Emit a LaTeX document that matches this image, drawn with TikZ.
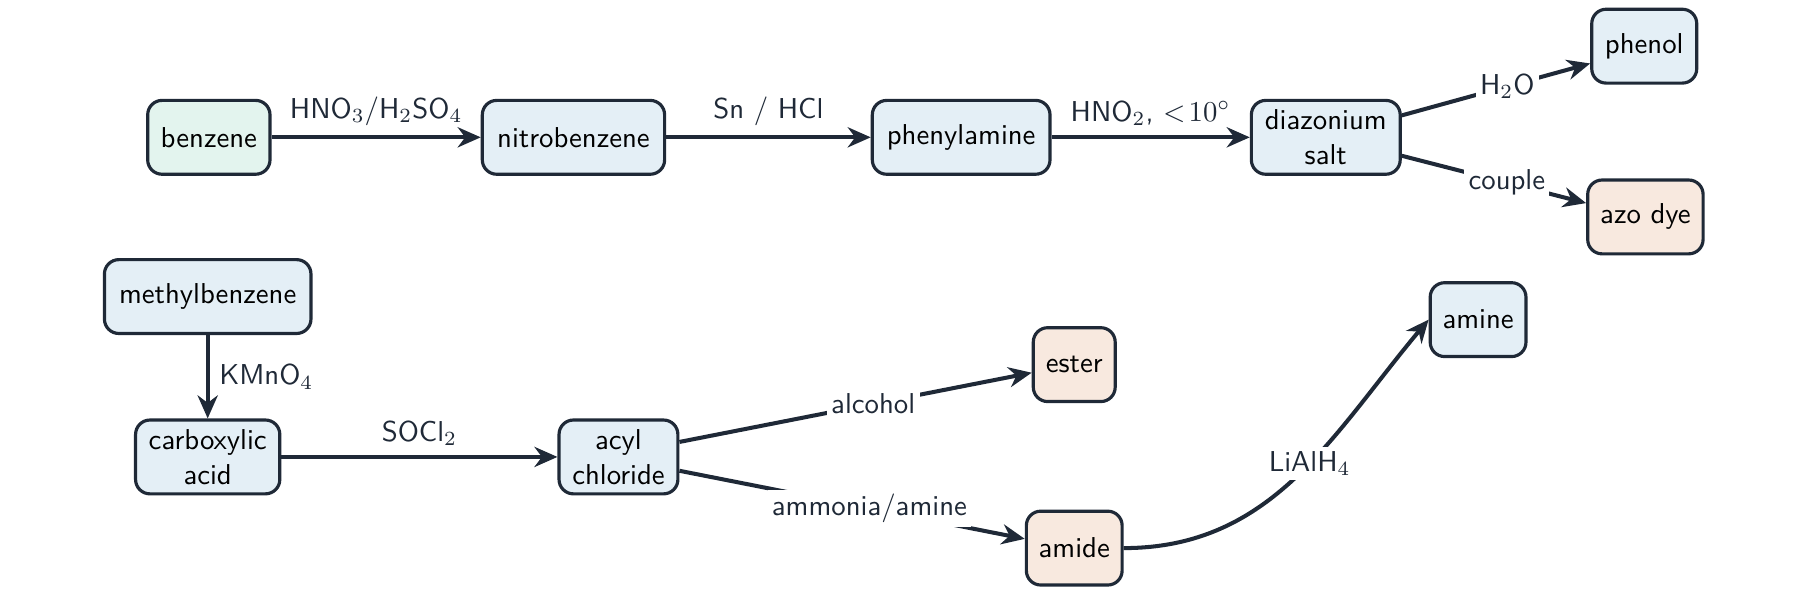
\documentclass[tikz,border=0pt]{standalone}
\usetikzlibrary{arrows.meta}
\renewcommand{\familydefault}{\sfdefault}
\begin{document}
\begin{tikzpicture}[x=0.141mm,y=-0.141mm,
  box/.style={draw=edge,line width=1.1pt,rounded corners=5pt,minimum height=64*0.141mm,align=center,inner sep=2pt,font=\sffamily},
  blue/.style={box,fill=bl},
  grn/.style={box,fill=gr},
  org/.style={box,fill=og},
  arr/.style={draw=edge,line width=1.4pt,-{Stealth[length=8pt,width=7pt]}},
  lab/.style={fill=white,inner sep=1.5pt,font=\sffamily,text=edge}]
\definecolor{edge}{HTML}{1F2937}
\definecolor{bl}{HTML}{E4EFF6}
\definecolor{gr}{HTML}{E3F4EE}
\definecolor{og}{HTML}{F8E9DF}
\useasboundingbox (0,0) rectangle (1560,513);
\node[grn,minimum width=106*0.141mm] (benz) at (181,119) {benzene};
\node[blue,minimum width=158*0.141mm] (nitro) at (497,119) {nitrobenzene};
\node[blue,minimum width=154*0.141mm] (phen) at (833,119) {phenylamine};
\node[blue,minimum width=129*0.141mm] (diaz) at (1149,119) {diazonium\\salt};
\node[blue,minimum width=91*0.141mm] (phenol) at (1425,40) {phenol};
\node[org,minimum width=100*0.141mm] (azo) at (1426,188) {azo dye};
\node[blue,minimum width=179*0.141mm] (meth) at (180,257) {methylbenzene};
\node[blue,minimum width=125*0.141mm] (carb) at (180,396) {carboxylic\\acid};
\node[blue,minimum width=103*0.141mm] (acyl) at (536,396) {acyl\\chloride};
\node[org,minimum width=71*0.141mm] (ester) at (931,316) {ester};
\node[org,minimum width=83*0.141mm] (amide) at (931,475) {amide};
\node[blue,minimum width=83*0.141mm] (amine) at (1281,277) {amine};
\draw[arr] (benz) -- node[above,font=\sffamily,text=edge] {HNO$_3$/H$_2$SO$_4$} (nitro);
\draw[arr] (nitro) -- node[above,font=\sffamily,text=edge] {Sn / HCl} (phen);
\draw[arr] (phen) -- node[above,font=\sffamily,text=edge] {HNO$_2$, $<\!10^\circ$} (diaz);
\draw[arr] (diaz.east|-1214,100) -- node[lab,pos=0.56] {H$_2$O} (phenol.west|-1378,55);
\draw[arr] (diaz.east|-1214,135) -- node[lab,pos=0.57] {couple} (azo.west|-1372,176);
\draw[arr] (meth) -- node[right,font=\sffamily,text=edge] {KMnO$_4$} (carb);
\draw[arr] (carb) -- node[above,font=\sffamily,text=edge] {SOCl$_2$} (acyl);
\draw[arr] (acyl.east|-588,383) -- node[lab,pos=0.55] {alcohol} (ester.west|-893,323);
\draw[arr] (acyl.east|-588,408) -- node[lab,pos=0.55] {ammonia/amine} (amide.west|-887,467);
\draw[arr] (amide.east) to[out=0,in=-130] node[lab,pos=0.55] {LiAlH$_4$} (amine.west);
\end{tikzpicture}
\end{document}
